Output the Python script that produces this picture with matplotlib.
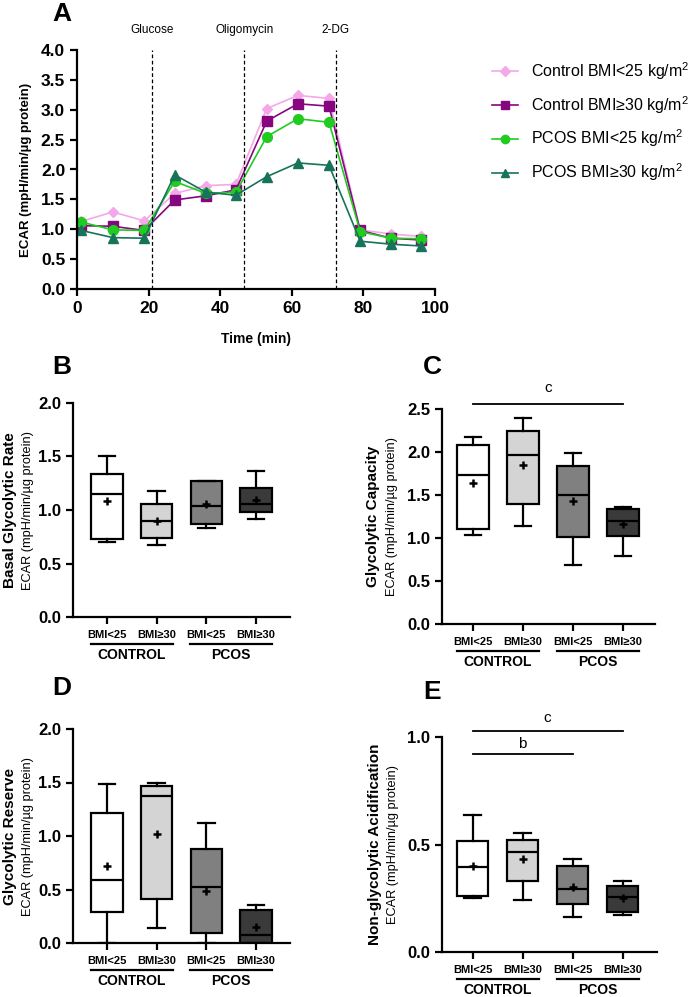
import matplotlib
matplotlib.use('Agg')
import matplotlib.pyplot as plt
from matplotlib.lines import Line2D
from matplotlib.transforms import blended_transform_factory, ScaledTranslation

plt.rcParams['font.family'] = ['Liberation Sans', 'DejaVu Sans']
plt.rcParams['mathtext.fontset'] = 'custom'
plt.rcParams['mathtext.rm'] = 'Liberation Sans'
plt.rcParams['mathtext.it'] = 'Liberation Sans:italic'
plt.rcParams['mathtext.bf'] = 'Liberation Sans:bold'

# ---- Panel A: ECAR time course ----
time_min = [1.2, 10.0, 18.8, 27.3, 36.0, 44.4, 53.0, 61.7, 70.4, 79.1, 87.7, 96.1]
ctrl_lean = [1.13, 1.29, 1.14, 1.60, 1.73, 1.75, 3.02, 3.24, 3.19, 0.99, 0.92, 0.88]
ctrl_obese = [1.06, 1.05, 0.98, 1.49, 1.56, 1.66, 2.81, 3.10, 3.06, 0.98, 0.85, 0.82]
pcos_lean = [1.12, 0.99, 0.98, 1.80, 1.60, 1.62, 2.55, 2.85, 2.79, 0.96, 0.85, 0.84]
pcos_obese = [0.98, 0.86, 0.85, 1.91, 1.62, 1.57, 1.88, 2.11, 2.07, 0.80, 0.75, 0.72]
series_labels = ['Control BMI<25 kg/m$^2$', 'Control BMI\u226530 kg/m$^2$',
                 'PCOS BMI<25 kg/m$^2$', 'PCOS BMI\u226530 kg/m$^2$']
series_colors = ['#f5a8e8', '#86067f', '#1fcc1f', '#17735a']
series_markers = ['D', 's', 'o', '^']
injections = ['Glucose', 'Oligomycin', '2-DG']
injection_times = [20.9, 46.7, 72.3]

# ---- Box panels (B-E): whisker low, Q1, median, Q3, whisker high, mean ----
groups = ['BMI<25', 'BMI\u226530', 'BMI<25', 'BMI\u226530']
group_names = ['CONTROL', 'PCOS']
box_colors = ['white', '#d4d4d4', '#808080', '#3a3a3a']

basal_lo = [0.70, 0.67, 0.835, 0.915]
basal_q1 = [0.73, 0.74, 0.865, 0.978]
basal_med = [1.148, 0.90, 1.036, 1.056]
basal_q3 = [1.332, 1.055, 1.27, 1.202]
basal_hi = [1.508, 1.175, 1.27, 1.365]
basal_mean = [1.087, 0.90, 1.056, 1.095]

capac_lo = [1.04, 1.14, 0.685, 0.796]
capac_q1 = [1.105, 1.395, 1.008, 1.024]
capac_med = [1.727, 1.963, 1.495, 1.198]
capac_q3 = [2.083, 2.241, 1.835, 1.333]
capac_hi = [2.175, 2.396, 1.99, 1.356]
capac_mean = [1.638, 1.851, 1.426, 1.163]

reserve_lo = [0.0, 0.137, 0.0, 0.0]
reserve_q1 = [0.286, 0.414, 0.09, 0.0]
reserve_med = [0.591, 1.375, 0.526, 0.072]
reserve_q3 = [1.216, 1.468, 0.88, 0.305]
reserve_hi = [1.484, 1.493, 1.123, 0.358]
reserve_mean = [0.719, 1.02, 0.488, 0.146]

nongly_lo = [0.253, 0.243, 0.165, 0.170]
nongly_q1 = [0.261, 0.332, 0.221, 0.184]
nongly_med = [0.397, 0.464, 0.292, 0.258]
nongly_q3 = [0.516, 0.521, 0.399, 0.309]
nongly_hi = [0.635, 0.553, 0.434, 0.332]
nongly_mean = [0.402, 0.431, 0.303, 0.250]

W, H = 690, 997
fig = plt.figure(figsize=(W / 100, H / 100), dpi=100)


def px_axes(left, top, right, bottom):
    return fig.add_axes([left / W, 1 - bottom / H, (right - left) / W, (bottom - top) / H])


def style_axes(ax):
    for s in ['top', 'right']:
        ax.spines[s].set_visible(False)
    for s in ['left', 'bottom']:
        ax.spines[s].set_linewidth(1.6)
    ax.tick_params(width=1.6, length=5, direction='out')


# ---- Panel A ----
axA = px_axes(77, 50, 435, 289)
style_axes(axA)
series = [ctrl_lean, ctrl_obese, pcos_lean, pcos_obese]
for vals, col, mk in zip(series, series_colors, series_markers):
    ms = 5.5 if mk == 'D' else 7
    axA.plot(time_min, vals, color=col, marker=mk, markersize=ms, lw=1.2)
for name, t in zip(injections, injection_times):
    axA.axvline(t, color='black', ls=(0, (3, 2)), lw=0.9)
    axA.text(t, 1.085, name, transform=blended_transform_factory(axA.transData, axA.transAxes),
             ha='center', va='center', fontsize=8.5)
axA.set_xlim(0, 100)
axA.set_ylim(0, 4.0)
axA.set_xticks(range(0, 101, 20))
axA.set_yticks([i * 0.5 for i in range(9)])
axA.set_yticklabels([f'{i * 0.5:.1f}' for i in range(9)])
for lab in axA.get_xticklabels() + axA.get_yticklabels():
    lab.set_fontweight('bold')
    lab.set_fontsize(12.5)
axA.set_xlabel('Time (min)', fontweight='bold', fontsize=10, labelpad=12)
axA.set_ylabel('ECAR (mpH/min/\u00b5g protein)', fontweight='bold', fontsize=9.5, labelpad=6)

handles = [Line2D([], [], color=c, marker=m, markersize=(5 if m == 'D' else 6), lw=1.2)
           for c, m in zip(series_colors, series_markers)]
fig.legend(handles, series_labels, loc='upper left', bbox_to_anchor=(478 / W, 1 - 46 / H),
           frameon=False, fontsize=11.5, handlelength=1.6, labelspacing=0.75, handletextpad=0.8)


def box_panel(ax, lo, q1, med, q3, hi, mean, ymax, xlim, title, tx_bold, tx_reg, sigs):
    style_axes(ax)
    stats = []
    for i in range(len(groups)):
        stats.append(dict(whislo=lo[i], q1=q1[i], med=med[i], q3=q3[i], whishi=hi[i],
                          mean=mean[i], fliers=[]))
    pos = list(range(len(groups)))
    bp = ax.bxp(stats, positions=pos, widths=0.63, patch_artist=True, showmeans=True,
                showfliers=False, capwidths=0.33, manage_ticks=False,
                boxprops=dict(lw=1.6, edgecolor='black'),
                whiskerprops=dict(lw=1.6), capprops=dict(lw=1.6),
                medianprops=dict(color='black', lw=1.6),
                meanprops=dict(marker='+', markeredgecolor='black', markersize=6, markeredgewidth=1.8))
    for patch, col in zip(bp['boxes'], box_colors):
        patch.set_facecolor(col)
    ax.set_xlim(*xlim)
    ax.set_ylim(0, ymax)
    step = 0.5
    ticks = [i * step for i in range(int(round(ymax / step)) + 1)]
    ax.set_yticks(ticks)
    ax.set_yticklabels([f'{t:.1f}' for t in ticks], fontweight='bold', fontsize=12)
    ax.set_xticks(pos)
    ax.set_xticklabels([])
    trans = blended_transform_factory(ax.transData, ax.transAxes)
    off = lambda px: trans + ScaledTranslation(0, -px / 100, fig.dpi_scale_trans)
    for p, g in zip(pos, groups):
        ax.text(p, 0, g, transform=off(18), ha='center', va='center', fontsize=8, fontweight='bold')
    for k, name in enumerate(group_names):
        x0, x1 = pos[2 * k] - 0.32, pos[2 * k + 1] + 0.32
        ax.plot([x0, x1], [0, 0], color='black', lw=1.6, transform=off(27), clip_on=False)
        ax.text((x0 + x1) / 2, 0, name, transform=off(38), ha='center', va='center',
                fontsize=10, fontweight='bold')
    for (a, b, yline, ytext, letter) in sigs:
        ax.plot([a, b], [yline, yline], color='black', lw=1.3, clip_on=False)
        ax.text((a + b) / 2, ytext, letter, ha='center', va='center', fontsize=11)
    bb = ax.get_position()
    yc = (bb.y0 + bb.y1) / 2
    fig.text(tx_bold / W, yc, title, rotation=90, ha='center', va='center',
             fontsize=11, fontweight='bold')
    fig.text(tx_reg / W, yc, 'ECAR (mpH/min/\u00b5g protein)', rotation=90, ha='center',
             va='center', fontsize=9.2)


axB = px_axes(73, 403, 290, 617)
box_panel(axB, basal_lo, basal_q1, basal_med, basal_q3, basal_hi, basal_mean, 2.0,
          (-0.68, 3.68), 'Basal Glycolytic Rate', 10, 28, [])

axC = px_axes(442, 409, 655, 624)
box_panel(axC, capac_lo, capac_q1, capac_med, capac_q3, capac_hi, capac_mean, 2.5,
          (-0.62, 3.64), 'Glycolytic Capacity', 373, 392, [(0, 3, 2.56, 2.75, 'c')])

axD = px_axes(73, 729, 290, 943)
box_panel(axD, reserve_lo, reserve_q1, reserve_med, reserve_q3, reserve_hi, reserve_mean, 2.0,
          (-0.68, 3.68), 'Glycolytic Reserve', 10, 28, [])

axE = px_axes(442, 737, 657, 952)
box_panel(axE, nongly_lo, nongly_q1, nongly_med, nongly_q3, nongly_hi, nongly_mean, 1.0,
          (-0.61, 3.69), 'Non-glycolytic Acidification', 375, 393,
          [(0, 3, 1.028, 1.088, 'c'), (0, 2, 0.921, 0.966, 'b')])

for letter, x, y in [('A', 62, 14), ('B', 62, 367), ('C', 432, 367), ('D', 62, 688), ('E', 432, 692)]:
    fig.text(x / W, 1 - y / H, letter, fontsize=19, fontweight='bold', ha='center', va='center')

fig.savefig('out.png', dpi=100)
